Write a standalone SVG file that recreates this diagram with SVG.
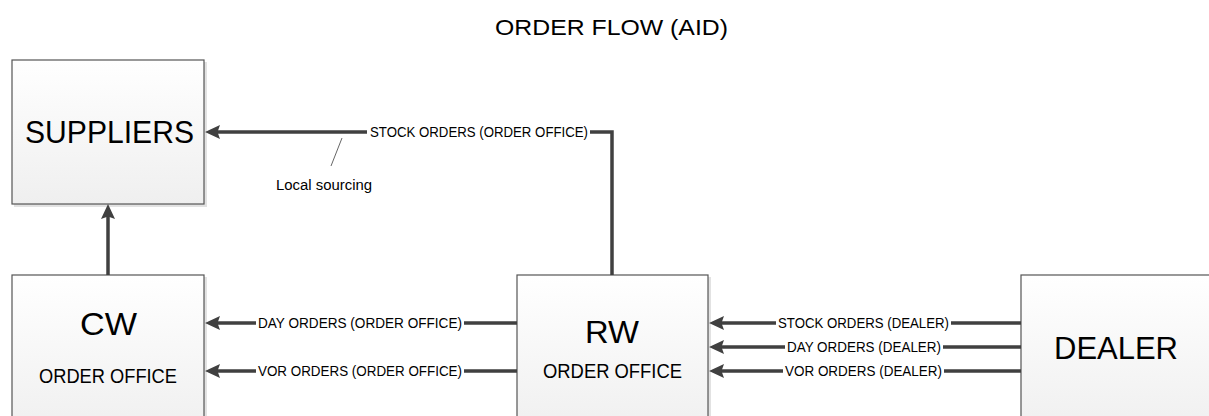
<svg xmlns="http://www.w3.org/2000/svg" width="1209" height="416" viewBox="0 0 1209 416">
<defs>
<linearGradient id="boxfill" x1="0" y1="0" x2="0" y2="1">
<stop offset="0" stop-color="#ffffff"/>
<stop offset="1" stop-color="#efefef"/>
</linearGradient>
<marker id="arr" viewBox="0 0 15 14" refX="5" refY="7" markerWidth="15" markerHeight="14" markerUnits="userSpaceOnUse" orient="auto">
<path d="M0,0 L15,7 L0,14 L2.5,7 Z" fill="#404040"/>
</marker>
<style>
.box{fill:url(#boxfill);stroke:#555;stroke-width:1.2}
.shadow{fill:#e2e2e2}
text{font-family:"Liberation Sans",Arial,sans-serif;fill:#000}
.big{font-size:31px}
.sub{font-size:20.5px}
.lbl{font-size:14px}
.conn{fill:none;stroke:#404040;stroke-width:3.5}
.lead{fill:none;stroke:#555;stroke-width:0.9}
</style>
</defs>
<rect width="1209" height="416" fill="#fff"/>
<text x="495" y="35" font-size="22.5" textLength="233" lengthAdjust="spacingAndGlyphs">ORDER FLOW (AID)</text>

<g id="suppliers">
<rect class="shadow" x="14" y="62" width="193" height="145"/>
<rect class="box" x="12" y="60" width="192" height="144"/>
<text class="big" x="25" y="143" textLength="169" lengthAdjust="spacingAndGlyphs">SUPPLIERS</text>
</g>
<g id="cw">
<rect class="shadow" x="14" y="277" width="193" height="160"/>
<rect class="box" x="12" y="275" width="192" height="160"/>
<text class="big" x="80" y="335" textLength="57" lengthAdjust="spacingAndGlyphs">CW</text>
<text class="sub" x="39" y="383" textLength="138" lengthAdjust="spacingAndGlyphs">ORDER OFFICE</text>
</g>
<g id="rw">
<rect class="shadow" x="519" y="277" width="192" height="160"/>
<rect class="box" x="517" y="275" width="191" height="160"/>
<text class="big" x="585" y="343" textLength="54" lengthAdjust="spacingAndGlyphs">RW</text>
<text class="sub" x="543" y="378" textLength="139" lengthAdjust="spacingAndGlyphs">ORDER OFFICE</text>
</g>
<g id="dealer">
<rect class="shadow" x="1023" y="277" width="200" height="160"/>
<rect class="box" x="1021" y="275" width="200" height="160"/>
<text class="big" x="1054" y="359" font-size="34" textLength="124" lengthAdjust="spacingAndGlyphs">DEALER</text>
</g>

<g id="connectors">
<path class="conn" d="M612,275 V132 H590 M367,132 H215" marker-end="url(#arr)"/>
<text class="lbl" x="370" y="137" textLength="218" lengthAdjust="spacingAndGlyphs">STOCK ORDERS (ORDER OFFICE)</text>
<path class="lead" d="M342,138 L331,166"/>
<text class="lbl" x="276" y="190" textLength="96" lengthAdjust="spacingAndGlyphs">Local sourcing</text>

<path class="conn" d="M108,275 V214" marker-end="url(#arr)"/>

<path class="conn" d="M517,323 H464 M256,323 H215" marker-end="url(#arr)"/>
<text class="lbl" x="258" y="328" textLength="204" lengthAdjust="spacingAndGlyphs">DAY ORDERS (ORDER OFFICE)</text>
<path class="conn" d="M517,371 H464 M256,371 H215" marker-end="url(#arr)"/>
<text class="lbl" x="258" y="376" textLength="204" lengthAdjust="spacingAndGlyphs">VOR ORDERS (ORDER OFFICE)</text>

<path class="conn" d="M1021,323 H951 M776,323 H719" marker-end="url(#arr)"/>
<text class="lbl" x="778" y="328" textLength="171" lengthAdjust="spacingAndGlyphs">STOCK ORDERS (DEALER)</text>
<path class="conn" d="M1021,347 H943 M785,347 H719" marker-end="url(#arr)"/>
<text class="lbl" x="787" y="352" textLength="154" lengthAdjust="spacingAndGlyphs">DAY ORDERS (DEALER)</text>
<path class="conn" d="M1021,371 H944 M783,371 H719" marker-end="url(#arr)"/>
<text class="lbl" x="785" y="376" textLength="157" lengthAdjust="spacingAndGlyphs">VOR ORDERS (DEALER)</text>
</g>
</svg>
